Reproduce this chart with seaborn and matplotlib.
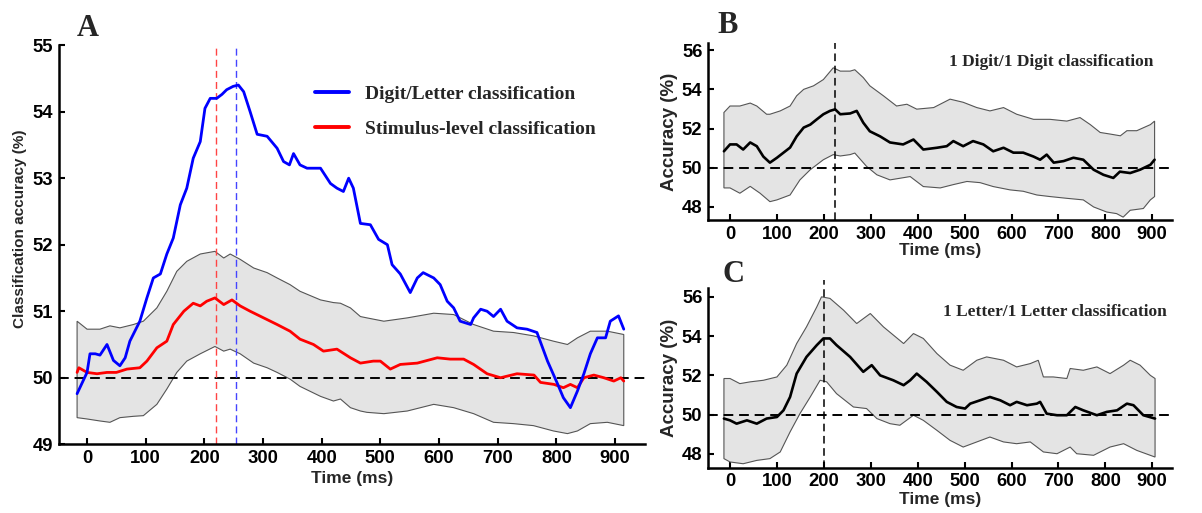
import numpy as np
import matplotlib
matplotlib.use("Agg")
import matplotlib.pyplot as plt
import seaborn as sns
from matplotlib.font_manager import FontProperties
from matplotlib.lines import Line2D

# ---------------- data ----------------
# Panel A
a_band_x = [-17, 0, 22, 39, 56, 79, 96, 119, 136, 153, 170, 193, 218, 233, 244, 261, 284, 307, 324, 346,
            363, 398, 420, 432, 449, 466, 477, 506, 546, 591, 625, 659, 693, 727, 761, 795, 819, 836, 858, 887, 915]
a_band_hi = [50.85, 50.73, 50.73, 50.78, 50.75, 50.8, 50.85, 51.05, 51.3, 51.6, 51.75, 51.86, 51.9, 51.8, 51.86,
             51.78, 51.65, 51.58, 51.5, 51.4, 51.3, 51.17, 51.13, 51.12, 51.05, 50.92, 50.9, 50.85, 50.9, 50.97,
             50.95, 50.8, 50.7, 50.68, 50.63, 50.55, 50.5, 50.6, 50.7, 50.7, 50.65]
a_band_lo = [49.4, 49.38, 49.35, 49.33, 49.4, 49.42, 49.43, 49.6, 49.83, 50.08, 50.25, 50.36, 50.47, 50.4, 50.43,
             50.36, 50.22, 50.15, 50.08, 49.98, 49.87, 49.72, 49.65, 49.68, 49.55, 49.5, 49.48, 49.46, 49.5, 49.6,
             49.55, 49.46, 49.33, 49.31, 49.28, 49.2, 49.16, 49.2, 49.31, 49.33, 49.28]

a_blue_x = [-17, 0, 5, 14, 22, 34, 45, 56, 65, 73, 90, 102, 113, 125, 136, 147, 159, 170, 181, 193,
            201, 210, 221, 230, 238, 249, 258, 267, 278, 290, 307, 324, 335, 345, 352, 363, 375, 398, 415, 426,
            437, 446, 454, 466, 483, 497, 512, 520, 534, 551, 563, 573, 591, 602, 614, 625, 636, 654, 659, 671,
            682, 693, 705, 716, 733, 750, 767, 785, 802, 812, 824, 836, 847, 858, 870, 884, 892, 906, 915]
a_blue_y = [49.76, 50.08, 50.36, 50.36, 50.34, 50.5, 50.26, 50.18, 50.3, 50.55, 50.85, 51.2, 51.5, 51.56, 51.86,
            52.1, 52.6, 52.85, 53.3, 53.55, 54.05, 54.2, 54.2, 54.26, 54.33, 54.38, 54.4, 54.3, 54.0, 53.66,
            53.63, 53.45, 53.25, 53.2, 53.37, 53.2, 53.15, 53.15, 52.92, 52.85, 52.8, 53.0, 52.85, 52.32, 52.3,
            52.08, 52.0, 51.7, 51.56, 51.28, 51.5, 51.58, 51.5, 51.4, 51.15, 51.05, 50.85, 50.8, 50.9, 51.03,
            51.0, 50.92, 51.03, 50.85, 50.75, 50.73, 50.68, 50.25, 49.91, 49.7, 49.55, 49.8, 50.06, 50.36, 50.6,
            50.6, 50.85, 50.93, 50.73]

a_red_x = [-17, -14, 0, 17, 34, 50, 68, 90, 102, 119, 136, 147, 165, 181, 193, 204, 218, 233, 247, 261,
           278, 301, 324, 346, 363, 386, 403, 426, 449, 466, 488, 500, 517, 534, 563, 597, 619, 642, 659, 682,
           705, 733, 762, 773, 796, 812, 824, 836, 847, 864, 881, 898, 910, 915]
a_red_y = [50.08, 50.15, 50.08, 50.06, 50.08, 50.08, 50.13, 50.15, 50.25, 50.45, 50.55, 50.8, 51.0, 51.12, 51.08,
           51.15, 51.2, 51.1, 51.17, 51.08, 51.0, 50.9, 50.8, 50.7, 50.58, 50.5, 50.4, 50.43, 50.3, 50.22,
           50.25, 50.25, 50.13, 50.2, 50.22, 50.3, 50.28, 50.28, 50.2, 50.06, 50.0, 50.06, 50.04, 49.93, 49.9,
           49.85, 49.9, 49.85, 50.0, 50.04, 50.0, 49.95, 50.0, 49.95]
a_peak_red = 220
a_peak_blue = 254
a_labels = ["Digit/Letter classification", "Stimulus-level classification"]

# Panel B
b_x = [-13, 0, 14, 28, 43, 57, 71, 85, 100, 114, 128, 142, 157, 171, 185, 199, 213, 224, 235, 256,
       270, 284, 298, 320, 341, 369, 391, 412, 441, 462, 476, 497, 518, 540, 561, 583, 604, 625, 647, 661,
       675, 690, 711, 732, 753, 775, 796, 817, 831, 853, 874, 896, 905]
b_y = [50.84, 51.19, 51.19, 50.93, 51.29, 51.1, 50.57, 50.26, 50.51, 50.77, 51.03, 51.6, 52.05, 52.2, 52.47,
       52.73, 52.9, 52.98, 52.73, 52.77, 52.9, 52.3, 51.86, 51.6, 51.29, 51.19, 51.44, 50.93, 51.02, 51.1,
       51.36, 51.1, 51.36, 51.19, 50.84, 51.02, 50.77, 50.77, 50.57, 50.41, 50.67, 50.26, 50.34, 50.51, 50.41,
       49.9, 49.64, 49.48, 49.8, 49.73, 49.9, 50.15, 50.41]
b_hi_x = [-13, 0, 21, 43, 57, 78, 85, 107, 128, 142, 157, 178, 199, 220, 235, 256, 266, 284, 298, 327,
          355, 377, 398, 434, 469, 497, 526, 554, 583, 611, 647, 682, 718, 746, 768, 789, 810, 832, 846, 867, 896, 905]
b_hi_y = [52.82, 53.15, 53.15, 53.3, 53.15, 52.73, 52.73, 52.9, 53.15, 53.67, 54.0, 54.18, 54.5, 55.1, 54.93,
          54.93, 55.0, 54.6, 54.18, 53.67, 53.15, 53.24, 52.99, 53.07, 53.5, 53.34, 53.07, 52.9, 53.07, 52.73,
          52.47, 52.47, 52.38, 52.56, 52.2, 51.8, 51.72, 51.63, 51.89, 51.89, 52.2, 52.38]
b_lo_x = [-13, 0, 21, 43, 64, 85, 100, 128, 149, 171, 199, 220, 235, 256, 266, 291, 313, 341, 384, 412,
          448, 476, 505, 533, 561, 597, 625, 654, 682, 718, 753, 775, 803, 824, 838, 853, 881, 896, 905]
b_lo_y = [48.97, 48.97, 48.7, 49.05, 48.7, 48.27, 48.36, 48.61, 49.38, 49.9, 50.41, 50.67, 50.6, 50.67, 50.75,
          50.07, 49.64, 49.38, 49.55, 49.04, 48.97, 49.14, 49.3, 49.24, 49.04, 48.87, 48.8, 48.61, 48.53, 48.44,
          48.36, 48.0, 47.74, 47.66, 47.48, 47.83, 47.92, 48.36, 48.53]
b_peak = 224
b_title = "1 Digit/1 Digit classification"

# Panel C
c_x = [-13, 0, 14, 36, 57, 78, 100, 114, 128, 142, 163, 185, 199, 213, 227, 256, 284, 302, 320, 348,
       370, 384, 398, 419, 441, 462, 483, 501, 512, 533, 554, 576, 597, 611, 633, 654, 661, 675, 697, 718,
       736, 753, 782, 803, 825, 846, 860, 881, 906]
c_y = [49.8, 49.71, 49.54, 49.71, 49.54, 49.8, 49.88, 50.22, 50.9, 52.09, 52.94, 53.54, 53.88, 53.88, 53.54,
       52.94, 52.18, 52.52, 52.0, 51.75, 51.5, 51.75, 52.09, 51.67, 51.16, 50.65, 50.39, 50.31, 50.56, 50.73,
       50.9, 50.73, 50.48, 50.65, 50.48, 50.56, 50.65, 50.05, 49.97, 49.97, 50.39, 50.22, 49.97, 50.14, 50.22,
       50.56, 50.48, 49.97, 49.8]
c_hi_x = [-13, 0, 21, 43, 71, 100, 121, 142, 163, 185, 195, 213, 242, 270, 299, 327, 370, 391, 412, 441,
          469, 497, 526, 547, 583, 611, 640, 657, 668, 689, 718, 725, 753, 782, 810, 839, 853, 874, 896, 906]
c_hi_y = [51.84, 51.84, 51.58, 51.67, 51.75, 51.92, 52.52, 53.62, 54.47, 55.49, 56.0, 55.92, 55.32, 54.64, 55.15,
          54.47, 53.62, 54.13, 53.88, 53.11, 52.52, 52.26, 52.77, 52.94, 52.77, 52.43, 52.6, 52.77, 51.92, 51.92,
          51.84, 52.35, 52.26, 52.43, 52.09, 52.52, 52.77, 52.52, 52.0, 51.84]
c_lo_x = [-13, 0, 28, 57, 85, 107, 128, 149, 171, 192, 206, 227, 263, 291, 313, 341, 362, 391, 412, 441,
          469, 497, 526, 554, 583, 611, 640, 668, 697, 725, 739, 775, 810, 839, 867, 906]
c_lo_y = [47.76, 47.59, 47.5, 47.67, 47.76, 48.1, 49.12, 50.05, 50.9, 51.75, 51.67, 51.07, 50.39, 50.31, 49.8,
          49.54, 49.46, 49.97, 49.71, 49.2, 48.69, 48.35, 48.61, 48.86, 48.61, 48.52, 48.61, 48.1, 48.01, 48.35,
          48.01, 47.93, 48.35, 48.52, 48.18, 47.84]
c_peak = 200
c_title = "1 Letter/1 Letter classification"

x_ticks = [0, 100, 200, 300, 400, 500, 600, 700, 800, 900]
a_yticks = [49, 50, 51, 52, 53, 54, 55]
bc_yticks = [48, 50, 52, 54, 56]
chance = 50

# ---------------- style ----------------
sns.set_theme(style="ticks")
plt.rcParams['font.family'] = ['Liberation Sans', 'DejaVu Sans']
plt.rcParams['axes.linewidth'] = 1.8

SANS = 'Liberation Sans'
SERIF = 'Liberation Serif'
BAND_FACE = '#e4e4e4'
BAND_EDGE = '#555555'

fig = plt.figure(figsize=(12.02, 5.13), dpi=100)
axA = fig.add_axes([0.049, 0.134, 0.488, 0.778])
axB = fig.add_axes([0.589, 0.571, 0.386, 0.345])
axC = fig.add_axes([0.589, 0.088, 0.386, 0.351])


def band(ax, hx, hy, lx, ly):
    px = np.concatenate([np.asarray(hx, float), np.asarray(lx, float)[::-1]])
    py = np.concatenate([np.asarray(hy, float), np.asarray(ly, float)[::-1]])
    ax.fill(px, py, facecolor=BAND_FACE, edgecolor=BAND_EDGE, linewidth=0.8, zorder=1)


def style_axes(ax, yticks, ylabel, ylabel_size, xlabelpad):
    sns.despine(ax=ax)
    ax.set_xticks(x_ticks)
    ax.set_yticks(yticks)
    ax.tick_params(direction='in', length=4.5, width=1.5, colors='black', pad=4)
    for lab in ax.get_xticklabels() + ax.get_yticklabels():
        lab.set_fontfamily(SANS)
        lab.set_fontweight('bold')
        lab.set_fontsize(13.3)
    ax.set_xlabel("Time (ms)", fontfamily=SANS, fontweight='bold', fontsize=12.5, labelpad=xlabelpad)
    ax.set_ylabel(ylabel, fontfamily=SANS, fontweight='bold', fontsize=ylabel_size, labelpad=3)
    for s in ['left', 'bottom']:
        ax.spines[s].set_color('black')
        ax.spines[s].set_linewidth(1.8)
    ax.set_facecolor('white')


# ---------------- Panel A ----------------
band(axA, a_band_x, a_band_hi, a_band_x, a_band_lo)
axA.axhline(chance, color='black', lw=1.4, ls=(0, (5, 3)), zorder=2)
axA.axvline(a_peak_red, color='#ff4444', lw=1.0, ls=(0, (5, 3)), zorder=2)
axA.axvline(a_peak_blue, color='#4444ff', lw=1.0, ls=(0, (5, 3)), zorder=2)
sns.lineplot(x=a_blue_x, y=a_blue_y, ax=axA, color='#0000ff', lw=2.0, sort=False, estimator=None, zorder=4)
sns.lineplot(x=a_red_x, y=a_red_y, ax=axA, color='#ff0000', lw=2.0, sort=False, estimator=None, zorder=3)
axA.set_xlim(-48, 952)
axA.set_ylim(49, 55)
style_axes(axA, a_yticks, "Classification accuracy (%)", 11, 3)
axA.yaxis.set_label_coords(-0.054, 0.54)
handles = [Line2D([], [], color='#0000ff', lw=2.8), Line2D([], [], color='#ff0000', lw=2.8)]
axA.legend(handles, a_labels, loc='upper left', bbox_to_anchor=(0.437, 0.9), frameon=False,
           prop=FontProperties(family=SERIF, weight='bold', size=14), handlelength=1.75,
           handletextpad=0.8, labelspacing=0.92, borderpad=0, borderaxespad=0)

# ---------------- Panel B ----------------
band(axB, b_hi_x, b_hi_y, b_lo_x, b_lo_y)
axB.axhline(chance, color='black', lw=1.4, ls=(0, (5, 3)), zorder=2)
axB.axvline(b_peak, color='black', lw=1.1, ls=(0, (5, 3)), zorder=2)
sns.lineplot(x=b_x, y=b_y, ax=axB, color='black', lw=1.9, sort=False, estimator=None, zorder=3)
axB.set_xlim(-47, 942)
axB.set_ylim(47.33, 56.36)
style_axes(axB, bc_yticks, "Accuracy (%)", 13.5, 0)
axB.text(0.959, 0.893, b_title, transform=axB.transAxes, ha='right', va='center',
         fontfamily=SERIF, fontweight='bold', fontsize=12.5)

# ---------------- Panel C ----------------
band(axC, c_hi_x, c_hi_y, c_lo_x, c_lo_y)
axC.axhline(chance, color='black', lw=1.4, ls=(0, (5, 3)), zorder=2)
axC.plot([c_peak, c_peak], [0, 1.045], transform=axC.get_xaxis_transform(), color='black', lw=1.1,
         ls=(0, (5, 3)), zorder=2, clip_on=False)
sns.lineplot(x=c_x, y=c_y, ax=axC, color='black', lw=1.9, sort=False, estimator=None, zorder=3)
axC.set_xlim(-47, 942)
axC.set_ylim(47.29, 56.46)
style_axes(axC, bc_yticks, "Accuracy (%)", 13.5, 1)
axC.text(0.989, 0.867, c_title, transform=axC.transAxes, ha='right', va='center',
         fontfamily=SERIF, fontweight='bold', fontsize=12.5)

# ---------------- panel letters ----------------
for lbl, x, y in [("A", 0.064, 0.93), ("B", 0.597, 0.936), ("C", 0.601, 0.45)]:
    fig.text(x, y, lbl, ha='left', va='baseline', fontfamily=SERIF, fontweight='bold', fontsize=22)

fig.savefig("out.png", dpi=100, facecolor='white')
